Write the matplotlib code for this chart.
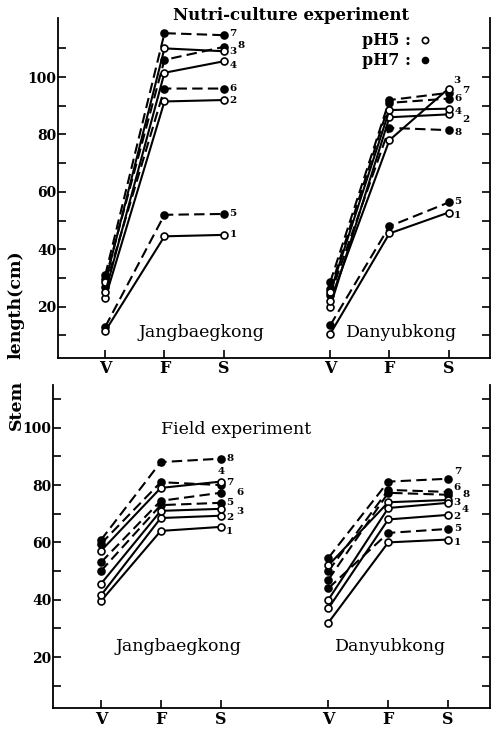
import numpy as np
import matplotlib
matplotlib.use('Agg')
import matplotlib.pyplot as plt

plt.rcParams['font.family'] = ['DejaVu Serif', 'DejaVu Sans']
plt.rcParams['mathtext.default'] = 'regular'

stages = ['V', 'F', 'S']
lines = ['1', '2', '3', '4', '5', '6', '7', '8']   # 1-4 pH5 (open), 5-8 pH7 (filled)

# stem length (cm) at V, F, S
nutri_jang = {
    '1': [11.5, 44.5, 45.0], '2': [23.0, 91.5, 92.0], '3': [28.5, 110.0, 109.0], '4': [25.0, 101.5, 105.5],
    '5': [13.0, 52.0, 52.3], '6': [27.0, 96.0, 96.0], '7': [31.0, 115.3, 114.6], '8': [29.5, 106.0, 110.5],
}
nutri_dany = {
    '1': [10.5, 45.5, 52.8], '2': [20.0, 86.0, 87.0], '3': [22.0, 78.0, 96.0], '4': [25.0, 88.5, 89.0],
    '5': [13.5, 48.0, 56.3], '6': [26.0, 91.0, 92.5], '7': [28.5, 92.0, 94.5], '8': [24.0, 82.3, 81.5],
}
field_jang = {
    '1': [39.5, 64.0, 65.4], '2': [41.5, 68.5, 69.3], '3': [45.5, 71.0, 71.7], '4': [57.0, 79.0, 81.2],
    '5': [50.0, 73.0, 73.8], '6': [53.0, 74.5, 77.3], '7': [59.5, 81.0, 80.0], '8': [60.8, 88.0, 89.2],
}
field_dany = {
    '1': [32.0, 60.0, 61.0], '2': [37.0, 68.0, 69.6], '3': [52.0, 74.0, 74.8], '4': [40.0, 72.0, 73.8],
    '5': [44.0, 63.3, 64.7], '6': [50.0, 78.3, 77.6], '7': [54.6, 81.2, 82.2], '8': [47.0, 77.3, 76.6],
}

# label offsets (points) at the S end
off_nj = {'1': (4, 0), '2': (4, 0), '3': (4, 0), '4': (4, -3), '5': (4, 0), '6': (4, 0), '7': (4, 1.5), '8': (10, 1)}
off_nd = {'1': (4, -2), '2': (10, -3.5), '3': (3.5, 6), '4': (4, -2), '5': (4, 1), '6': (4, 0), '7': (10, 1.5), '8': (4, -1.5)}
off_fj = {'1': (4, -3.5), '2': (4, -1.5), '3': (11, -2), '4': (-2, 7), '5': (4, 0), '6': (11, 0), '7': (4, 1.5), '8': (4, 0)}
off_fd = {'1': (4, -2), '2': (4, -1.5), '3': (4, -1.5), '4': (10, -5), '5': (4, 0.5), '6': (4, 3.5), '7': (4, 5.5), '8': (10, 0)}

x_jang = np.array([0.0, 1.0, 2.0])
x_dany = np.array([3.8, 4.8, 5.8])

fig = plt.figure(figsize=(4.95, 7.30), dpi=100)
ax1 = fig.add_axes([0.117, 0.510, 0.873, 0.465])
ax2 = fig.add_axes([0.107, 0.030, 0.883, 0.443])


def draw_group(ax, xs, data, offs):
    for k in lines:
        filled = int(k) >= 5
        ax.plot(xs, data[k], linestyle=(0, (5, 2.5)) if filled else '-', linewidth=1.5, color='black',
                marker='o', ms=5, markerfacecolor='black' if filled else 'white',
                markeredgecolor='black', markeredgewidth=1.2, clip_on=False, zorder=3 if filled else 4)
        ax.annotate(k, (xs[-1], data[k][-1]), xytext=offs[k], textcoords='offset points',
                    ha='left', va='center', fontsize=7.5, fontweight='bold')


def style_axes(ax, ylim):
    ax.set_xlim(-0.8, 6.5)
    ax.set_ylim(*ylim)
    ax.set_xticks(np.concatenate([x_jang, x_dany]))
    ax.set_xticklabels(stages + stages, fontsize=11.5, fontweight='bold')
    ax.set_yticks([20, 40, 60, 80, 100])
    ax.set_yticks(np.arange(10, ylim[1], 20), minor=True)
    ax.set_yticklabels(['20', '40', '60', '80', '100'], fontsize=10, fontweight='bold')
    ax.spines['top'].set_visible(False)
    for s in ['left', 'right', 'bottom']:
        ax.spines[s].set_linewidth(1.3)
    ax.yaxis.set_ticks_position('both')
    ax.tick_params(axis='both', which='both', direction='in', length=6, width=1.2, pad=2)
    ax.tick_params(axis='y', which='both', labelright=False, pad=1)


draw_group(ax1, x_jang, nutri_jang, off_nj)
draw_group(ax1, x_dany, nutri_dany, off_nd)
draw_group(ax2, x_jang, field_jang, off_fj)
draw_group(ax2, x_dany, field_dany, off_fd)

style_axes(ax1, (2.2, 120.5))
style_axes(ax2, (2.2, 115.0))

ax1.text(0.54, 1.009, 'Nutri-culture experiment', transform=ax1.transAxes, ha='center', va='center',
         fontsize=12, fontweight='bold')
ax1.text(0.83, 0.935, 'pH5 : ', transform=ax1.transAxes, ha='right', va='center', fontsize=11.5, fontweight='bold')
ax1.text(0.83, 0.876, 'pH7 : ', transform=ax1.transAxes, ha='right', va='center', fontsize=11.5, fontweight='bold')
ax1.plot([0.85], [0.935], transform=ax1.transAxes, marker='o', ms=4.5, mfc='white', mec='black', mew=1.2,
         clip_on=False)
ax1.plot([0.85], [0.876], transform=ax1.transAxes, marker='o', ms=4.5, mfc='black', mec='black', clip_on=False)

name_font = dict(fontsize=12.5, ha='center', va='center')
ax1.text(0.331, 0.074, 'Jangbaegkong', transform=ax1.transAxes, **name_font)
ax1.text(0.796, 0.074, 'Danyubkong', transform=ax1.transAxes, **name_font)

ax2.text(0.419, 0.86, 'Field experiment', transform=ax2.transAxes, **name_font)
ax2.text(0.288, 0.19, 'Jangbaegkong', transform=ax2.transAxes, **name_font)
ax2.text(0.773, 0.19, 'Danyubkong', transform=ax2.transAxes, **name_font)

fig.text(0.033, 0.582, 'length(cm)', rotation=90, ha='center', va='center', fontsize=12.5, fontweight='bold')
fig.text(0.033, 0.445, 'Stem', rotation=90, ha='center', va='center', fontsize=12.5, fontweight='bold')

fig.savefig('out.png', dpi=100)
